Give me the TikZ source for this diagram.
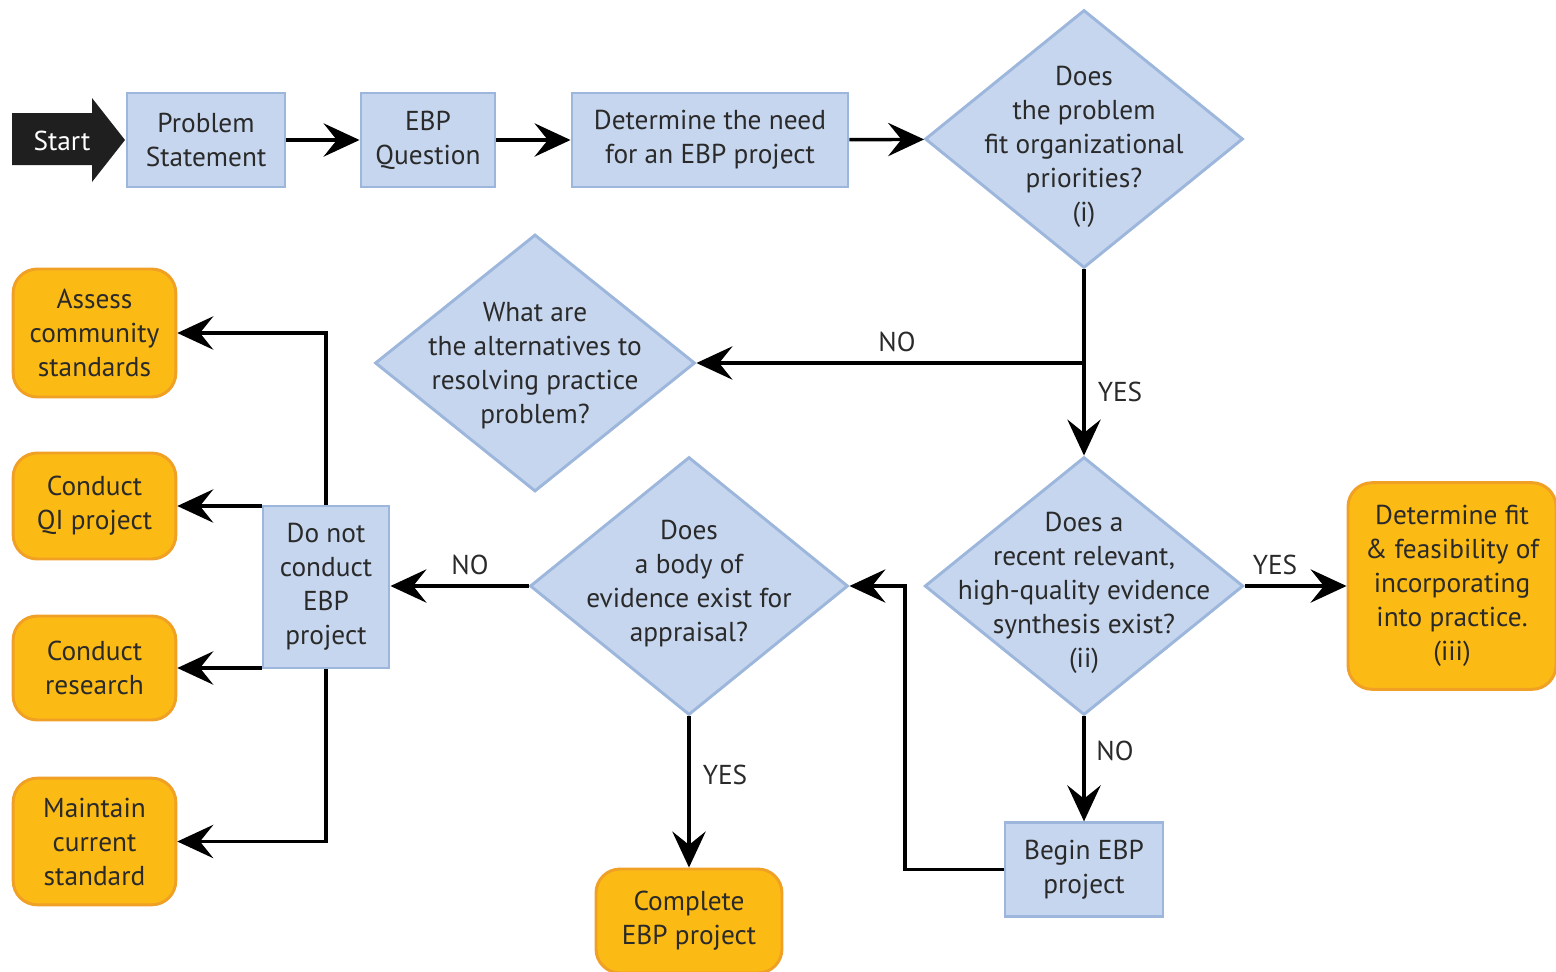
\documentclass[tikz,border=0pt]{standalone}
\usepackage{fontspec}
\setmainfont{PT Sans}
\usetikzlibrary{shapes.geometric,arrows.meta}
\definecolor{bfill}{HTML}{C6D6EE}
\definecolor{bline}{HTML}{9DB6DC}
\definecolor{ofill}{HTML}{FBBA14}
\definecolor{oline}{HTML}{F0A024}
\definecolor{txt}{HTML}{2A2A2A}
\begin{document}
\begin{tikzpicture}[x=0.75pt,y=-0.75pt, font=\fontsize{20.5}{25.5}\selectfont, text=txt,
 bbox/.style={draw=bline, fill=bfill, line width=2.2pt, inner sep=0pt, align=center},
 obox/.style={draw=oline, fill=ofill, line width=2.2pt, rounded corners=18pt, inner sep=0pt, align=center},
 dia/.style={diamond, draw=bline, fill=bfill, line width=2.2pt, inner sep=0pt},
 lbl/.style={align=center, inner sep=0pt},
 arr/.style={line width=2.6pt, -{Stealth[length=27pt,width=25pt,inset=10pt]}},
 ln/.style={line width=2.6pt}]
\useasboundingbox (0,0) rectangle (1556,971);
% start arrow
\fill[black!88] (12,113) -- (92,113) -- (92,98) -- (125,140) -- (92,182) -- (92,165) -- (12,165) -- cycle;
\node[lbl, text=white] (start) at (62,141) {Start};
% top row
\node[bbox, minimum width=118.5pt, minimum height=70.5pt] (ps) at (206,140) {Problem\\Statement};
\node[bbox, minimum width=100.5pt, minimum height=70.5pt] (ebpq) at (428,140) {EBP\\Question};
\node[bbox, minimum width=207pt, minimum height=70.5pt] (need) at (710,140) {Determine the need\\for an EBP project};
% diamonds
\node[dia, minimum width=238.5pt, minimum height=193.5pt] (d1) at (1084,139) {};
\node[lbl] (d1t) at (1084,147) {Does\\the problem\\fit organizational\\priorities?\\(i)};
\node[dia, minimum width=240pt, minimum height=192.75pt] (alt) at (535,363) {};
\node[lbl] (altt) at (535,366) {What are\\the alternatives to\\resolving practice\\problem?};
\node[dia, minimum width=239pt, minimum height=193.5pt] (d2) at (1084,586) {};
\node[lbl] (d2t) at (1084,593) {Does a\\recent relevant,\\high-quality evidence\\synthesis exist?\\(ii)};
\node[dia, minimum width=238.5pt, minimum height=193.5pt] (d3) at (689,586) {};
\node[lbl] (d3t) at (689,584) {Does\\a body of\\evidence exist for\\appraisal?};
% other boxes
\node[obox, minimum width=156pt, minimum height=155pt] (fit) at (1452,586) {Determine fit\\\& feasibility of\\incorporating\\into practice.\\(iii)};
\node[bbox, minimum width=94.5pt, minimum height=121.5pt] (dnc) at (326,587) {Do not\\conduct\\EBP\\project};
\node[obox, minimum width=122pt, minimum height=96pt] (assess) at (94.5,333) {Assess\\community\\standards};
\node[obox, minimum width=122pt, minimum height=79.5pt] (qi) at (94.5,506) {Conduct\\QI project};
\node[obox, minimum width=122pt, minimum height=78pt] (research) at (94.5,668) {Conduct\\research};
\node[obox, minimum width=122pt, minimum height=95pt] (maintain) at (94.5,841.5) {Maintain\\current\\standard};
\node[obox, minimum width=139.5pt, minimum height=78pt] (complete) at (689,921) {Complete\\EBP project};
\node[bbox, minimum width=118.5pt, minimum height=70pt] (begin) at (1084,869.5) {Begin EBP\\project};
% connectors
\draw[arr] (ps) -- (ebpq);
\draw[arr] (ebpq) -- (need);
\draw[arr] (need) -- (d1);
\draw[arr] (d1) -- (d2);
\coordinate (j1) at (1084,363);
\draw[arr] (j1) -- (alt.east);
\draw[arr] (d2) -- (fit);
\draw[arr] (d2) -- (begin);
\coordinate (b1) at (905,869.5);
\draw[arr] (begin.west) -- (b1) |- (d3.east);
\draw[arr] (d3.west) -- (d3.west -| dnc.east);
\draw[arr] (d3) -- (complete);
\draw[arr] (dnc.north) |- (assess.east);
\draw[arr] (dnc.west |- qi.east) -- (qi.east);
\draw[arr] (dnc.west |- research.east) -- (research.east);
\draw[arr] (dnc.south) |- (maintain.east);
% labels
\node[lbl] (l1) at (897,342) {NO};
\node[lbl] (l2) at (1120,392) {YES};
\node[lbl] (l3) at (1275,565) {YES};
\node[lbl] (l4) at (1115,751) {NO};
\node[lbl] (l5) at (470,565) {NO};
\node[lbl] (l6) at (725,775) {YES};
\end{tikzpicture}
\end{document}
